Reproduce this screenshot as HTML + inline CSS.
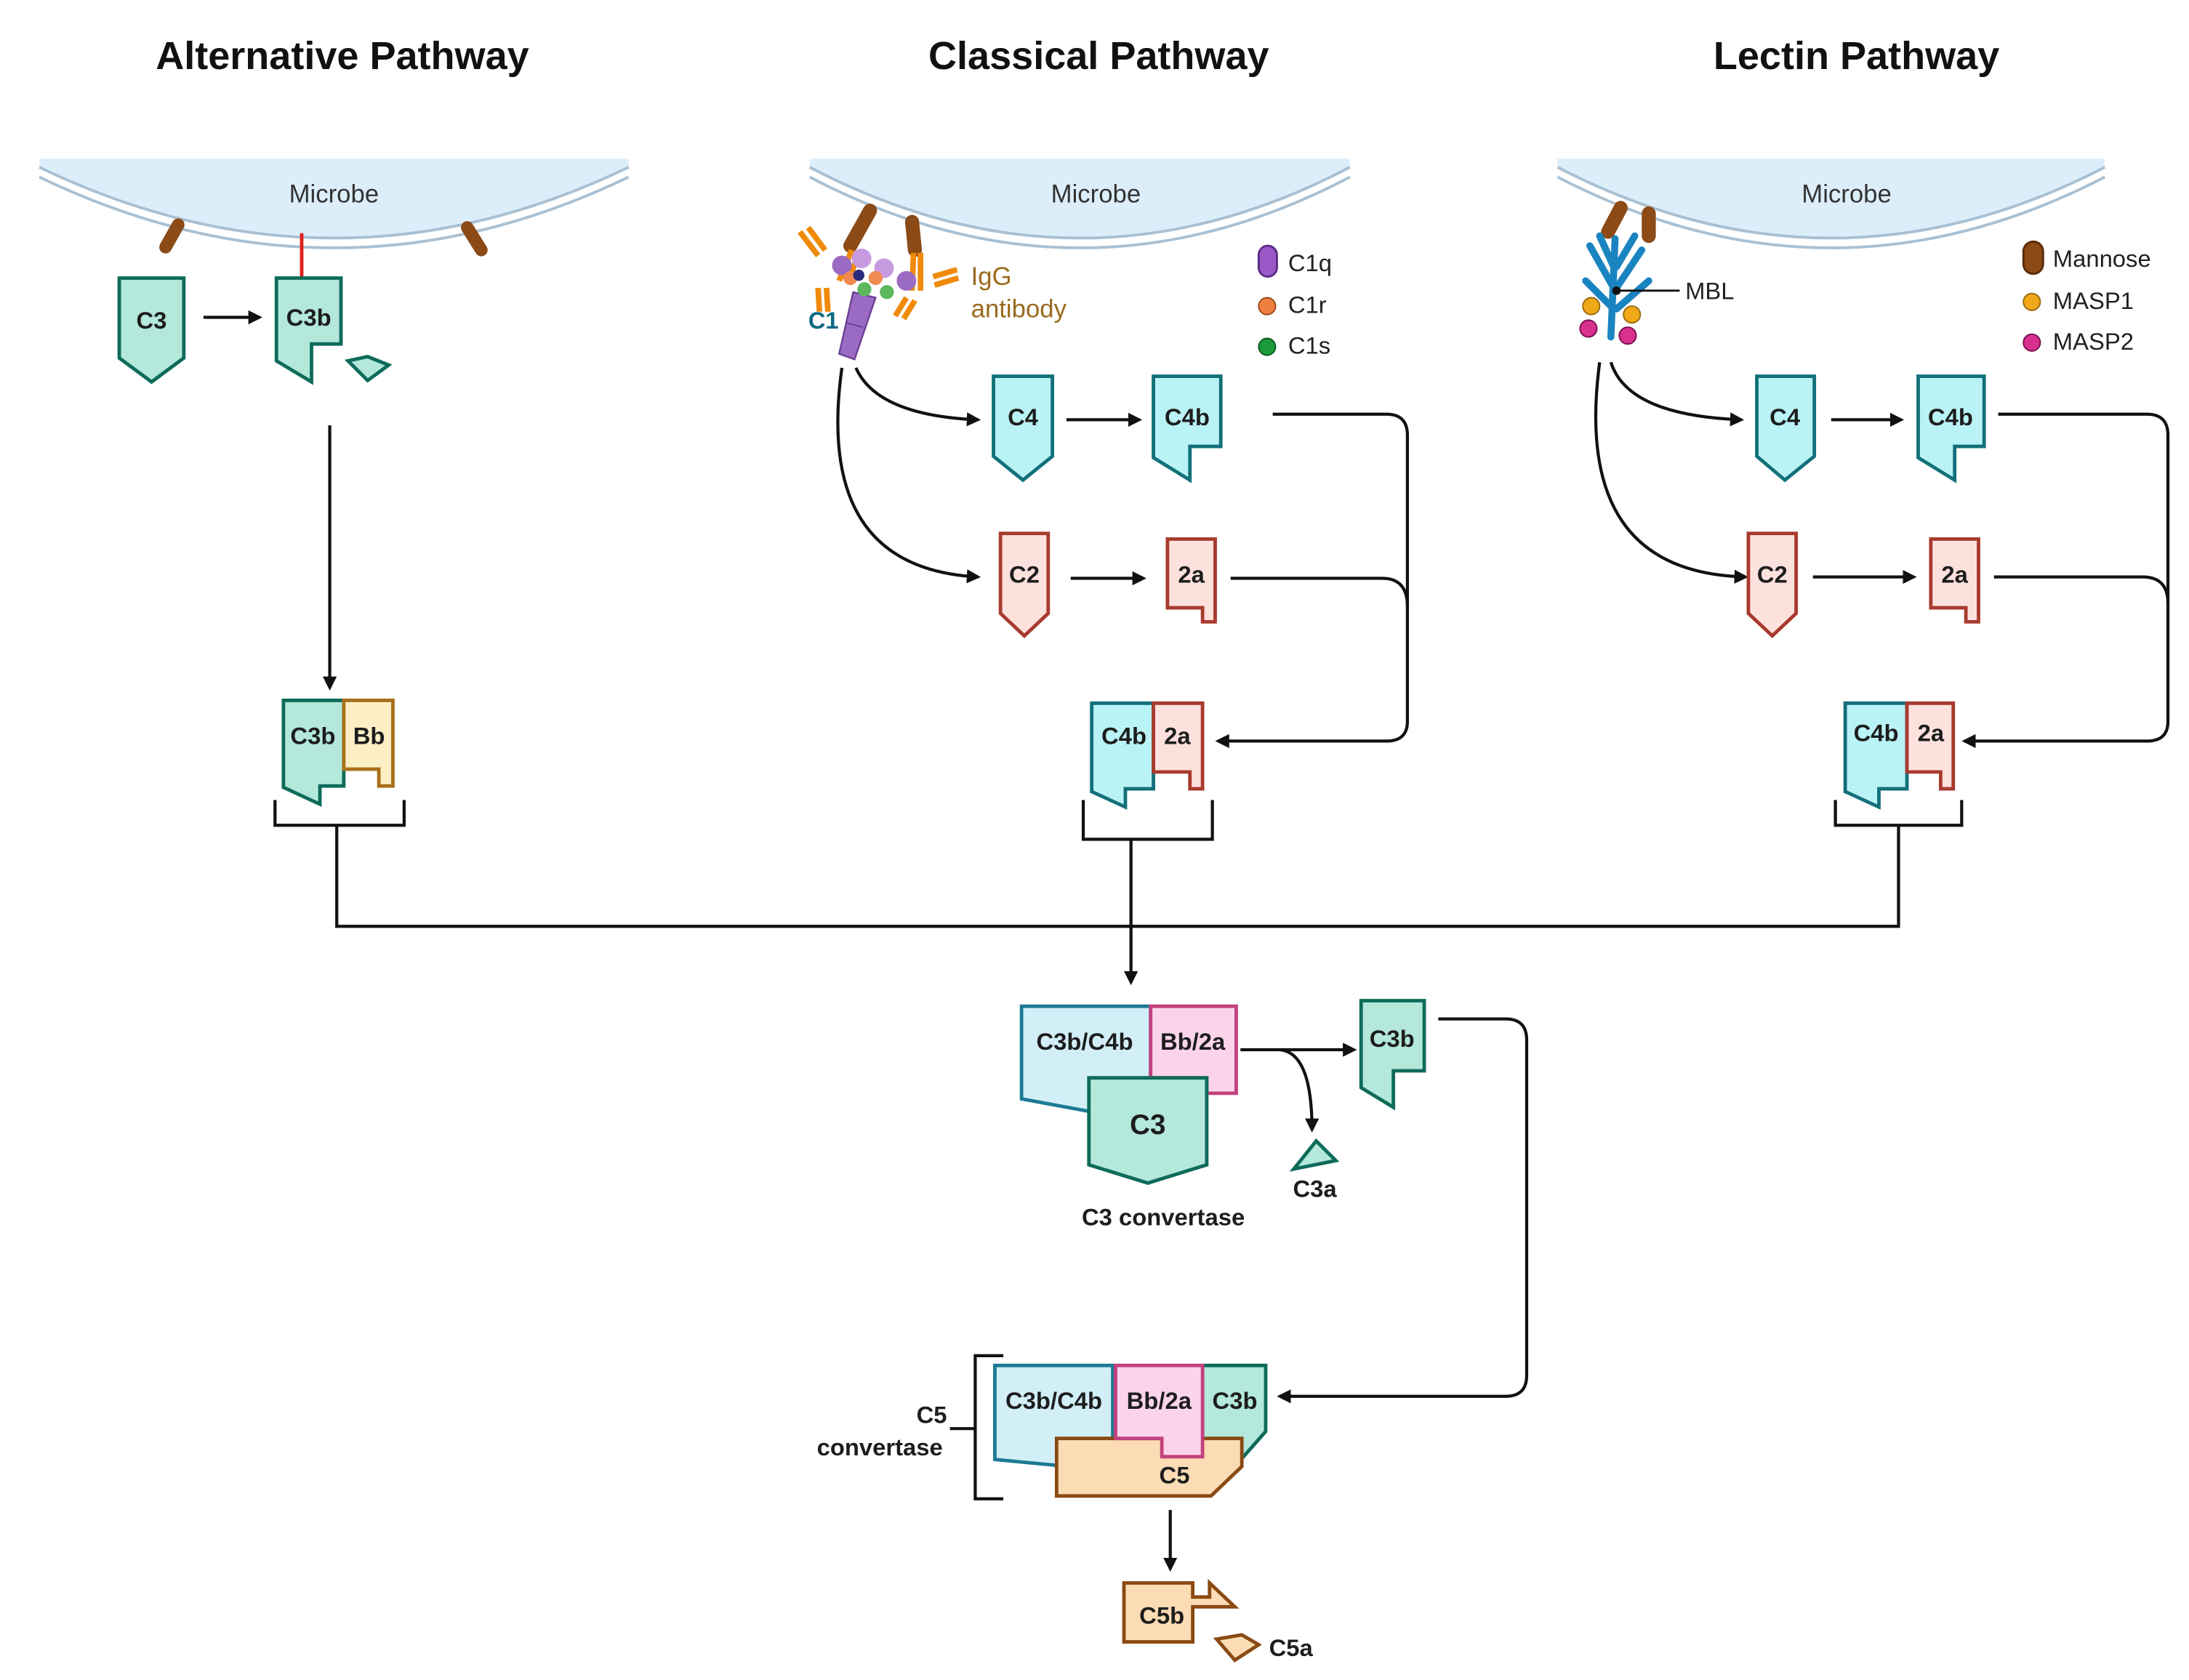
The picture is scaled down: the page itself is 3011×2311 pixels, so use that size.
<!DOCTYPE html>
<html><head><meta charset="utf-8"><style>
html,body{margin:0;padding:0;background:#fff;}
svg{display:block;}
text{font-family:"Liberation Sans",sans-serif;}
.t{font-size:17px;font-weight:bold;fill:#1d1d1d;text-anchor:middle;}
.h{font-size:28px;font-weight:bold;fill:#111;text-anchor:middle;}
.m{font-size:18px;fill:#333;text-anchor:middle;}
.l{font-size:17px;fill:#222;}
.ln{fill:none;stroke:#111;stroke-width:2.2;}
.g{fill:#b3e8db;stroke:#0e6b5a;stroke-width:2.5;}
.c{fill:#baf3f6;stroke:#13707a;stroke-width:2.5;}
.r{fill:#fde1dd;stroke:#a83a2e;stroke-width:2.5;}
.y{fill:#fdefc6;stroke:#a8701a;stroke-width:2.5;}
.b{fill:#d2eff7;stroke:#1d7a94;stroke-width:2.5;}
.p{fill:#fbd4ec;stroke:#c2417e;stroke-width:2.5;}
.o{fill:#fcdcb4;stroke:#8a4a14;stroke-width:2.5;}
</style></head><body>
<svg width="3011" height="2311" viewBox="0 0 1560 1197" xmlns="http://www.w3.org/2000/svg">
<defs><marker id="a" markerWidth="10" markerHeight="10" refX="8" refY="5" orient="auto" markerUnits="userSpaceOnUse"><path d="M0,0 L10,5 L0,10 Z" fill="#111"/></marker></defs>
<rect width="1560" height="1197" fill="#fff"/>
<text class="h" x="244" y="49">Alternative Pathway</text>
<text class="h" x="783" y="49">Classical Pathway</text>
<text class="h" x="1323" y="49">Lectin Pathway</text>

<g>
<path d="M28,113 H448 V119 Q238,220 28,119 Z" fill="#ddeefb"/>
<path d="M28,119 Q238,220 448,119" fill="none" stroke="#a9c0d2" stroke-width="2"/>
<path d="M28,126 Q238,227 448,126" fill="none" stroke="#a9c0d2" stroke-width="2"/>
<text class="m" x="238" y="144">Microbe</text>
<path d="M577,113 H962 V119 Q770,220 577,119 Z" fill="#ddeefb"/>
<path d="M577,119 Q770,220 962,119" fill="none" stroke="#a9c0d2" stroke-width="2"/>
<path d="M577,126 Q770,227 962,126" fill="none" stroke="#a9c0d2" stroke-width="2"/>
<text class="m" x="781" y="144">Microbe</text>
<path d="M1110,113 H1500 V119 Q1305,220 1110,119 Z" fill="#ddeefb"/>
<path d="M1110,119 Q1305,220 1500,119" fill="none" stroke="#a9c0d2" stroke-width="2"/>
<path d="M1110,126 Q1305,227 1500,126" fill="none" stroke="#a9c0d2" stroke-width="2"/>
<text class="m" x="1316" y="144">Microbe</text>
</g>

<line x1="127" y1="160" x2="118" y2="176" stroke="#8b4a16" stroke-width="9" stroke-linecap="round"/>
<line x1="333" y1="162" x2="343" y2="178" stroke="#8b4a16" stroke-width="9" stroke-linecap="round"/>
<line x1="215" y1="166" x2="215" y2="198" stroke="#e0201c" stroke-width="2.5"/>
<path class="g" d="M85,198 H131 V255 L108,272 L85,255 Z"/><text class="t" x="108" y="234">C3</text>
<line class="ln" x1="145" y1="226" x2="185" y2="226" marker-end="url(#a)"/>
<path class="g" d="M197,198 H243 V245 H222 V272 L197,257 Z"/><text class="t" x="220" y="232">C3b</text>
<path class="g" d="M248,257 L262,254 L277,260 L262,271 Z"/>
<line class="ln" x1="235" y1="303" x2="235" y2="490" marker-end="url(#a)"/>
<path class="g" d="M202,499 H245 V560 H228 V573 L202,561 Z"/>
<path class="y" d="M245,499 H280 V560 H270 V548 H245 Z"/>
<text class="t" x="223" y="530">C3b</text><text class="t" x="263" y="530">Bb</text>
<path class="ln" d="M196,570 V588 H288 V570"/>

<g>
<path d="M620,150 L606,175" stroke="#8b4a16" stroke-width="10" stroke-linecap="round"/>
<path d="M650,158 L652,178" stroke="#8b4a16" stroke-width="10" stroke-linecap="round"/>
<g stroke="#f08a0a" stroke-width="4" fill="none">
<path d="M607,178 L598,200 M612,180 L604,202"/><path d="M570,165 L583,182 M576,162 L588,178"/>
<path d="M583,205 L584,222 M589,205 L590,222"/>
<path d="M651,180 L650,207 M656,180 L656,207"/>
<path d="M665,197 L682,192 M666,203 L683,198"/><path d="M646,212 L638,225 M652,214 L644,227"/>
</g>
<path d="M608,208 L598,252 L609,256 L624,212 Z" fill="#9b6bc4" stroke="#6a3e93" stroke-width="1.2"/>
<path d="M603,230 L615,233" stroke="#6a3e93" stroke-width="1"/>
<circle cx="600" cy="189" r="7" fill="#9b6bc4"/><circle cx="614" cy="184" r="7" fill="#c79ae0"/>
<circle cx="630" cy="191" r="7" fill="#c79ae0"/><circle cx="646" cy="200" r="7" fill="#9b6bc4"/>
<circle cx="606" cy="198" r="5" fill="#f08a50"/><circle cx="624" cy="198" r="5" fill="#f08a50"/>
<circle cx="632" cy="208" r="5" fill="#5cb85c"/><circle cx="616" cy="206" r="5" fill="#5cb85c"/>
<circle cx="612" cy="196" r="4" fill="#2a2a7a"/>
</g>
<text x="576" y="234" style="font-size:17px;font-weight:bold;fill:#0e6a86">C1</text>
<text x="692" y="203" style="font-size:18px;fill:#9a6a1e">IgG</text>
<text x="692" y="226" style="font-size:18px;fill:#9a6a1e">antibody</text>
<rect x="897" y="175" width="13" height="22" rx="6.5" fill="#9b59c7" stroke="#5b2d86" stroke-width="1.5"/>
<text class="l" x="918" y="193">C1q</text>
<circle cx="903" cy="218" r="6" fill="#f08040" stroke="#9a4a1a" stroke-width="1"/><text class="l" x="918" y="223">C1r</text>
<circle cx="903" cy="247" r="6" fill="#1a9a3a" stroke="#0c5a20" stroke-width="1"/><text class="l" x="918" y="252">C1s</text>
<path class="ln" d="M610,262 Q625,296 697,299" marker-end="url(#a)"/>
<path class="ln" d="M600,262 Q580,405 697,411" marker-end="url(#a)"/>
<path class="c" d="M708,268 H750 V325 L729,342 L708,325 Z"/><text class="t" x="729" y="303">C4</text>
<line class="ln" x1="760" y1="299" x2="812" y2="299" marker-end="url(#a)"/>
<path class="c" d="M822,268 H870 V318 H848 V342 L822,326 Z"/><text class="t" x="846" y="303">C4b</text>
<path class="r" d="M713,380 H747 V437 L730,453 L713,437 Z"/><text class="t" x="730" y="415">C2</text>
<line class="ln" x1="763" y1="412" x2="815" y2="412" marker-end="url(#a)"/>
<path class="r" d="M832,384 H866 V443 H857 V433 H832 Z"/><text class="t" x="849" y="415">2a</text>
<path class="ln" d="M907,295 H988 Q1003,295 1003,310 V514 Q1003,528 988,528 H868" marker-end="url(#a)"/>
<path class="ln" d="M877,412 H985 Q1003,412 1003,432"/>
<path class="c" d="M778,501 H822 V562 H802 V575 L778,564 Z"/>
<path class="r" d="M822,501 H857 V562 H848 V550 H822 Z"/>
<text class="t" x="801" y="530">C4b</text><text class="t" x="839" y="530">2a</text>
<path class="ln" d="M772,570 V598 H864 V570"/>
<line class="ln" x1="806" y1="598" x2="806" y2="700" marker-end="url(#a)"/>

<path d="M1155,148 L1146,165" stroke="#8b4a16" stroke-width="10" stroke-linecap="round"/>
<path d="M1175,152 L1175,168" stroke="#8b4a16" stroke-width="10" stroke-linecap="round"/>
<g stroke="#1a84c0" stroke-width="5" fill="none" stroke-linecap="round">
<path d="M1148,240 L1151,170"/><path d="M1150,205 L1133,175"/><path d="M1152,205 L1170,178"/>
<path d="M1150,220 L1130,200"/><path d="M1152,220 L1175,200"/><path d="M1150,190 L1140,168"/><path d="M1152,190 L1165,168"/>
</g>
<circle cx="1134" cy="218" r="6" fill="#f0a818" stroke="#9a6a10" stroke-width="1"/>
<circle cx="1163" cy="224" r="6" fill="#f0a818" stroke="#9a6a10" stroke-width="1"/>
<circle cx="1132" cy="234" r="6" fill="#d8308f" stroke="#7a1050" stroke-width="1"/>
<circle cx="1160" cy="239" r="6" fill="#d8308f" stroke="#7a1050" stroke-width="1"/>
<circle cx="1152" cy="207" r="3" fill="#111"/>
<line x1="1152" y1="207" x2="1197" y2="207" stroke="#111" stroke-width="1.5"/>
<text class="l" x="1201" y="213">MBL</text>
<rect x="1442" y="172" width="14" height="23" rx="7" fill="#8b4a16" stroke="#5a2a08" stroke-width="1.5"/>
<text class="l" x="1463" y="190">Mannose</text>
<circle cx="1448" cy="215" r="6" fill="#f0a818" stroke="#9a6a10" stroke-width="1"/><text class="l" x="1463" y="220">MASP1</text>
<circle cx="1448" cy="244" r="6" fill="#d8308f" stroke="#7a1050" stroke-width="1"/><text class="l" x="1463" y="249">MASP2</text>
<path class="ln" d="M1148,258 Q1160,296 1241,299" marker-end="url(#a)"/>
<path class="ln" d="M1140,258 Q1120,408 1244,411" marker-end="url(#a)"/>
<path class="c" d="M1252,268 H1293 V325 L1272,342 L1252,325 Z"/><text class="t" x="1272" y="303">C4</text>
<line class="ln" x1="1305" y1="299" x2="1355" y2="299" marker-end="url(#a)"/>
<path class="c" d="M1367,268 H1414 V318 H1393 V342 L1367,326 Z"/><text class="t" x="1390" y="303">C4b</text>
<path class="r" d="M1246,380 H1280 V437 L1263,453 L1246,437 Z"/><text class="t" x="1263" y="415">C2</text>
<line class="ln" x1="1292" y1="411" x2="1364" y2="411" marker-end="url(#a)"/>
<path class="r" d="M1376,384 H1410 V443 H1401 V433 H1376 Z"/><text class="t" x="1393" y="415">2a</text>
<path class="ln" d="M1424,295 H1530 Q1545,295 1545,310 V514 Q1545,528 1530,528 H1400" marker-end="url(#a)"/>
<path class="ln" d="M1421,411 H1527 Q1545,411 1545,430"/>
<path class="c" d="M1315,501 H1359 V562 H1339 V575 L1315,564 Z"/>
<path class="r" d="M1359,501 H1392 V562 H1383 V550 H1359 Z"/>
<text class="t" x="1337" y="528">C4b</text><text class="t" x="1376" y="528">2a</text>
<path class="ln" d="M1308,570 V588 H1398 V570"/>

<path class="ln" d="M240,588 V660 H1353 V588"/>

<path class="b" d="M728,717 H820 V800 L728,783 Z"/>
<path class="p" d="M820,717 H881 V779 H860 V768 H820 Z"/>
<path class="g" d="M776,768 H860 V830 L818,843 L776,830 Z"/>
<text class="t" x="773" y="748">C3b/C4b</text><text class="t" x="850" y="748">Bb/2a</text>
<text class="t" x="818" y="808" style="font-size:20px">C3</text>
<text class="t" x="829" y="873">C3 convertase</text>
<line class="ln" x1="884" y1="748" x2="965" y2="748" marker-end="url(#a)"/>
<path class="ln" d="M912,748 Q935,750 935,805" marker-end="url(#a)"/>
<path class="g" d="M922,833 L938,813 L952,827 Z"/>
<text class="t" x="937" y="853">C3a</text>
<path class="g" d="M970,713 H1015 V763 H993 V789 L970,775 Z"/>
<text class="t" x="992" y="746">C3b</text>
<path class="ln" d="M1025,726 H1073 Q1088,726 1088,741 V980 Q1088,995 1073,995 H912" marker-end="url(#a)"/>

<path class="ln" d="M715,966 H695 V1068 H715"/>
<line class="ln" x1="677" y1="1018" x2="695" y2="1018"/>
<text class="t" x="664" y="1014">C5</text>
<text class="t" x="627" y="1037">convertase</text>
<path class="b" d="M709,973 H793 V1048 L709,1040 Z"/>
<path class="g" d="M857,973 H902 V1020 L880,1045 L857,1045 Z"/>
<path class="o" d="M753,1025 H885 V1045 L863,1066 H753 Z"/>
<path class="p" d="M795,973 H857 V1038 H828 V1025 H795 Z"/>
<text class="t" x="751" y="1004">C3b/C4b</text><text class="t" x="826" y="1004">Bb/2a</text><text class="t" x="880" y="1004">C3b</text>
<text class="t" x="837" y="1057">C5</text>
<line class="ln" x1="834" y1="1076" x2="834" y2="1118" marker-end="url(#a)"/>
<path class="o" d="M801,1128 H850 V1138 H862 V1128 L880,1145 H850 V1170 H801 Z"/>
<text class="t" x="828" y="1157">C5b</text>
<path class="o" d="M867,1168 L885,1165 L897,1172 L880,1183 Z"/>
<text class="t" x="920" y="1180">C5a</text>
</svg>
</body></html>
